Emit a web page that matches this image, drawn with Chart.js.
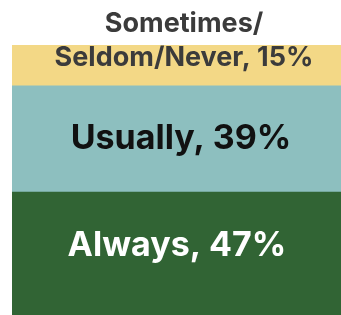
<!DOCTYPE html>
<html>
<head>
<meta charset="utf-8">
<script src="https://cdn.jsdelivr.net/npm/chart.js@4"></script>
<style>
  html, body { margin: 0; padding: 0; background: #fff; overflow: hidden; }
  #wrap { width: 341px; height: 315px; overflow: hidden; position: relative; }
  #box { position: absolute; left: 0; top: 0; width: 348px; height: 320px; }
</style>
</head>
<body>
<div id="wrap"><div id="box"><canvas id="bar"></canvas></div></div>
<script>
const categories = ["All"];
const seriesNames = ["Always", "Usually", "Sometimes/Seldom/Never"];
const always = [47];
const usually = [39];
const seldom = [15];
const labelLines = [["Always, 47%"], ["Usually, 39%"], ["Sometimes/", "Seldom/Never, 15%"]];

// draws the text inside each stacked segment
const segmentLabels = {
  id: "segmentLabels",
  afterDatasetsDraw(chart, args, opts) {
    const ctx = chart.ctx;
    chart.data.datasets.forEach((ds, i) => {
      const meta = chart.getDatasetMeta(i);
      const st = opts.styles[i];
      meta.data.forEach((el) => {
        const lines = labelLines[i];
        const cx = el.x + st.dx;
        const cy = (el.y + el.base) / 2 + st.shift;
        ctx.save();
        ctx.font = "bold " + st.size + "px Inter";
        ctx.fillStyle = st.color;
        ctx.textAlign = "center";
        ctx.textBaseline = "middle";
        lines.forEach((t, k) => {
          const y = cy - (lines.length - 1 - k) * st.lineHeight;
          ctx.fillText(t, cx, y);
        });
        ctx.restore();
      });
    });
  },
};

const ctx = document.getElementById("bar");
new Chart(ctx, {
  type: "bar",
  data: {
    labels: categories,
    datasets: [
      { label: seriesNames[0], data: always, backgroundColor: "#316434" },
      { label: seriesNames[1], data: usually, backgroundColor: "#8DBFBF" },
      { label: seriesNames[2], data: seldom, backgroundColor: "#F3D886" },
    ],
  },
  options: {
    responsive: true,
    maintainAspectRatio: false,
    animation: false,
    layout: { padding: { left: 12, top: 45, right: 0, bottom: 0 } },
    datasets: {
      bar: { barPercentage: 1, categoryPercentage: 1, borderWidth: 0 },
    },
    scales: {
      x: { stacked: true, display: false },
      y: { stacked: true, display: false, min: 0, max: 101 },
    },
    plugins: {
      legend: { display: false },
      tooltip: { enabled: false },
      segmentLabels: {
        styles: [
          { color: "#ffffff", size: 34, shift: -10, dx: -3, lineHeight: 0 },
          { color: "#111111", size: 34, shift: 0, dx: 1, lineHeight: 0 },
          { color: "#3b3b3b", size: 27, shift: -8, dx: 4, lineHeight: 34 },
        ],
      },
    },
  },
  plugins: [segmentLabels],
});
</script>
</body>
</html>
